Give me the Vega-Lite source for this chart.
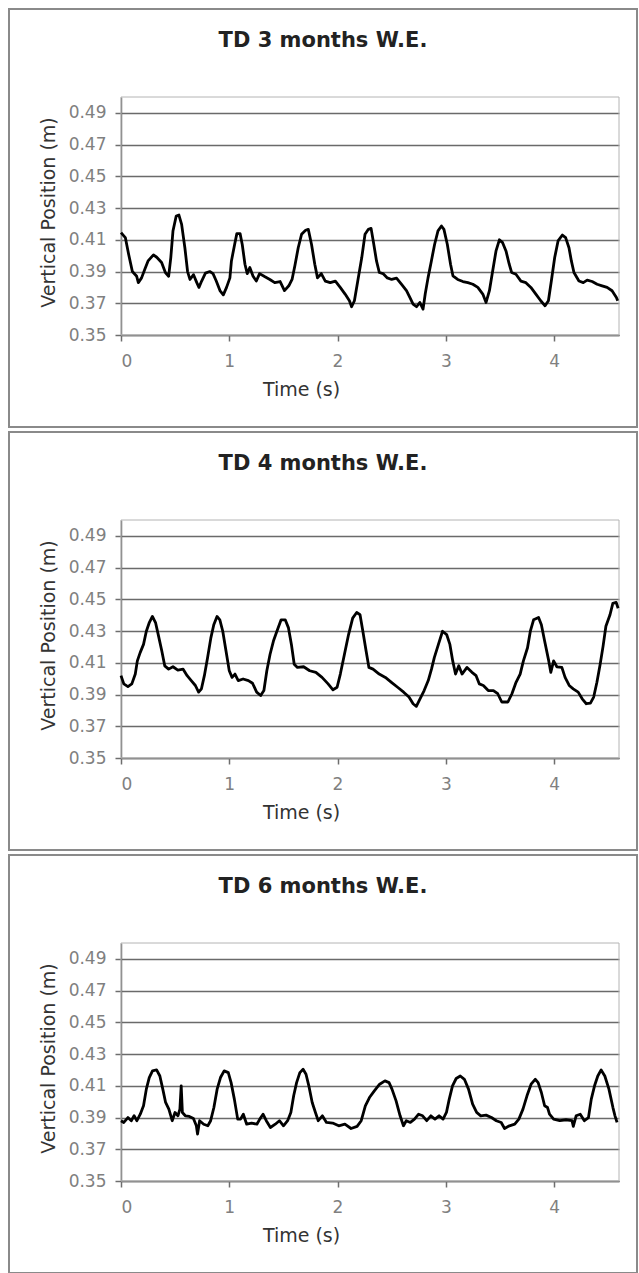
{
  "$schema": "https://vega.github.io/schema/vega-lite/v6.json",
  "background": "white",
  "padding": {"left": 8, "top": 8, "right": 3, "bottom": 1},
  "spacing": 5,
  "bounds": "flush",
  "datasets": {
    "p3": [
      {"t":0,"v":0.4145},{"t":0.04,"v":0.4114},{"t":0.07,"v":0.401},{"t":0.105,"v":0.390},{"t":0.145,"v":0.387},{"t":0.16,"v":0.383},{"t":0.19,"v":0.386},{"t":0.22,"v":0.3915},{"t":0.25,"v":0.3967},{"t":0.30,"v":0.4005},{"t":0.33,"v":0.399},{"t":0.375,"v":0.3957},{"t":0.41,"v":0.3894},{"t":0.44,"v":0.387},{"t":0.46,"v":0.3988},{"t":0.48,"v":0.4155},{"t":0.51,"v":0.425},{"t":0.535,"v":0.4256},{"t":0.56,"v":0.4197},{"t":0.59,"v":0.405},{"t":0.615,"v":0.390},{"t":0.637,"v":0.385},{"t":0.67,"v":0.388},{"t":0.70,"v":0.383},{"t":0.72,"v":0.380},{"t":0.745,"v":0.384},{"t":0.78,"v":0.389},{"t":0.82,"v":0.390},{"t":0.85,"v":0.3887},{"t":0.88,"v":0.384},{"t":0.914,"v":0.378},{"t":0.945,"v":0.3753},{"t":0.975,"v":0.380},{"t":1.006,"v":0.386},{"t":1.02,"v":0.3967},{"t":1.05,"v":0.4072},{"t":1.07,"v":0.4139},{"t":1.10,"v":0.4139},{"t":1.12,"v":0.407},{"t":1.145,"v":0.3946},{"t":1.166,"v":0.3887},{"t":1.19,"v":0.3925},{"t":1.22,"v":0.387},{"t":1.25,"v":0.384},{"t":1.28,"v":0.3887},{"t":1.33,"v":0.3867},{"t":1.375,"v":0.385},{"t":1.42,"v":0.383},{"t":1.47,"v":0.3837},{"t":1.51,"v":0.378},{"t":1.55,"v":0.381},{"t":1.58,"v":0.385},{"t":1.606,"v":0.3936},{"t":1.637,"v":0.405},{"t":1.668,"v":0.4135},{"t":1.705,"v":0.416},{"t":1.73,"v":0.4166},{"t":1.76,"v":0.407},{"t":1.79,"v":0.3946},{"t":1.815,"v":0.386},{"t":1.85,"v":0.3887},{"t":1.887,"v":0.384},{"t":1.933,"v":0.383},{"t":1.98,"v":0.384},{"t":2.025,"v":0.380},{"t":2.07,"v":0.3758},{"t":2.11,"v":0.3716},{"t":2.13,"v":0.3678},{"t":2.156,"v":0.3716},{"t":2.187,"v":0.384},{"t":2.224,"v":0.3988},{"t":2.254,"v":0.4135},{"t":2.285,"v":0.4166},{"t":2.31,"v":0.4172},{"t":2.33,"v":0.4093},{"t":2.36,"v":0.3967},{"t":2.386,"v":0.3894},{"t":2.42,"v":0.3887},{"t":2.46,"v":0.386},{"t":2.5,"v":0.385},{"t":2.545,"v":0.3858},{"t":2.59,"v":0.382},{"t":2.637,"v":0.3779},{"t":2.668,"v":0.3737},{"t":2.698,"v":0.3695},{"t":2.73,"v":0.3678},{"t":2.76,"v":0.3705},{"t":2.79,"v":0.3663},{"t":2.81,"v":0.3758},{"t":2.836,"v":0.386},{"t":2.867,"v":0.3967},{"t":2.897,"v":0.4072},{"t":2.928,"v":0.4156},{"t":2.96,"v":0.4187},{"t":2.983,"v":0.4166},{"t":3.014,"v":0.4072},{"t":3.044,"v":0.3946},{"t":3.066,"v":0.3873},{"t":3.11,"v":0.385},{"t":3.158,"v":0.3837},{"t":3.204,"v":0.383},{"t":3.25,"v":0.382},{"t":3.296,"v":0.380},{"t":3.342,"v":0.3758},{"t":3.372,"v":0.3705},{"t":3.403,"v":0.3779},{"t":3.433,"v":0.3904},{"t":3.464,"v":0.403},{"t":3.495,"v":0.41},{"t":3.525,"v":0.4082},{"t":3.556,"v":0.403},{"t":3.586,"v":0.3946},{"t":3.608,"v":0.3894},{"t":3.648,"v":0.3883},{"t":3.694,"v":0.384},{"t":3.74,"v":0.383},{"t":3.786,"v":0.380},{"t":3.832,"v":0.3758},{"t":3.877,"v":0.3716},{"t":3.917,"v":0.3684},{"t":3.948,"v":0.3716},{"t":3.975,"v":0.384},{"t":4.006,"v":0.3988},{"t":4.037,"v":0.4093},{"t":4.077,"v":0.413},{"t":4.107,"v":0.4114},{"t":4.138,"v":0.405},{"t":4.16,"v":0.3967},{"t":4.184,"v":0.3894},{"t":4.23,"v":0.384},{"t":4.27,"v":0.383},{"t":4.306,"v":0.3846},{"t":4.352,"v":0.3837},{"t":4.398,"v":0.382},{"t":4.444,"v":0.381},{"t":4.49,"v":0.380},{"t":4.536,"v":0.3779},{"t":4.576,"v":0.3737},{"t":4.588,"v":0.3716}
    ],
    "p4": [
      {"t":0,"v":0.4019},{"t":0.026,"v":0.3967},{"t":0.064,"v":0.395},{"t":0.10,"v":0.3967},{"t":0.132,"v":0.4029},{"t":0.151,"v":0.4112},{"t":0.177,"v":0.4164},{"t":0.208,"v":0.4216},{"t":0.234,"v":0.4299},{"t":0.26,"v":0.4351},{"t":0.29,"v":0.4392},{"t":0.32,"v":0.4351},{"t":0.347,"v":0.4268},{"t":0.377,"v":0.4174},{"t":0.404,"v":0.4081},{"t":0.44,"v":0.406},{"t":0.48,"v":0.4075},{"t":0.525,"v":0.4054},{"t":0.574,"v":0.406},{"t":0.611,"v":0.4019},{"t":0.649,"v":0.3988},{"t":0.687,"v":0.3957},{"t":0.717,"v":0.3915},{"t":0.743,"v":0.3936},{"t":0.77,"v":0.4019},{"t":0.80,"v":0.4133},{"t":0.83,"v":0.4257},{"t":0.857,"v":0.434},{"t":0.887,"v":0.4392},{"t":0.913,"v":0.4371},{"t":0.94,"v":0.4299},{"t":0.97,"v":0.4174},{"t":1.0,"v":0.405},{"t":1.026,"v":0.4008},{"t":1.053,"v":0.4029},{"t":1.083,"v":0.3988},{"t":1.128,"v":0.3998},{"t":1.177,"v":0.3988},{"t":1.215,"v":0.3971},{"t":1.253,"v":0.3915},{"t":1.29,"v":0.3894},{"t":1.32,"v":0.3925},{"t":1.347,"v":0.405},{"t":1.377,"v":0.4154},{"t":1.408,"v":0.4237},{"t":1.44,"v":0.4299},{"t":1.479,"v":0.4371},{"t":1.517,"v":0.4371},{"t":1.547,"v":0.432},{"t":1.574,"v":0.4216},{"t":1.6,"v":0.4091},{"t":1.63,"v":0.4071},{"t":1.687,"v":0.4075},{"t":1.743,"v":0.405},{"t":1.8,"v":0.404},{"t":1.857,"v":0.4008},{"t":1.913,"v":0.3967},{"t":1.958,"v":0.393},{"t":1.996,"v":0.3946},{"t":2.026,"v":0.4029},{"t":2.064,"v":0.4154},{"t":2.102,"v":0.4278},{"t":2.14,"v":0.4382},{"t":2.177,"v":0.4417},{"t":2.208,"v":0.4403},{"t":2.234,"v":0.4299},{"t":2.264,"v":0.4174},{"t":2.29,"v":0.4071},{"t":2.328,"v":0.406},{"t":2.385,"v":0.4029},{"t":2.442,"v":0.4008},{"t":2.498,"v":0.3977},{"t":2.555,"v":0.3946},{"t":2.611,"v":0.3915},{"t":2.66,"v":0.3884},{"t":2.698,"v":0.3842},{"t":2.728,"v":0.3826},{"t":2.762,"v":0.3873},{"t":2.8,"v":0.3925},{"t":2.838,"v":0.3988},{"t":2.868,"v":0.406},{"t":2.894,"v":0.4133},{"t":2.932,"v":0.4216},{"t":2.97,"v":0.4299},{"t":3.008,"v":0.4278},{"t":3.038,"v":0.4216},{"t":3.064,"v":0.4112},{"t":3.09,"v":0.4029},{"t":3.12,"v":0.4081},{"t":3.15,"v":0.4029},{"t":3.196,"v":0.4071},{"t":3.242,"v":0.404},{"t":3.28,"v":0.4019},{"t":3.31,"v":0.3967},{"t":3.347,"v":0.3957},{"t":3.392,"v":0.3925},{"t":3.44,"v":0.3925},{"t":3.48,"v":0.3905},{"t":3.517,"v":0.3853},{"t":3.574,"v":0.3853},{"t":3.611,"v":0.3905},{"t":3.649,"v":0.3977},{"t":3.687,"v":0.4029},{"t":3.717,"v":0.4112},{"t":3.755,"v":0.4195},{"t":3.781,"v":0.4299},{"t":3.811,"v":0.4371},{"t":3.857,"v":0.4386},{"t":3.883,"v":0.434},{"t":3.913,"v":0.4237},{"t":3.951,"v":0.4112},{"t":3.97,"v":0.404},{"t":3.996,"v":0.4112},{"t":4.026,"v":0.4075},{"t":4.072,"v":0.4071},{"t":4.102,"v":0.4008},{"t":4.14,"v":0.3957},{"t":4.177,"v":0.3936},{"t":4.223,"v":0.3915},{"t":4.26,"v":0.3873},{"t":4.298,"v":0.3842},{"t":4.336,"v":0.3846},{"t":4.366,"v":0.3884},{"t":4.396,"v":0.3977},{"t":4.426,"v":0.4091},{"t":4.453,"v":0.4205},{"t":4.479,"v":0.433},{"t":4.517,"v":0.4403},{"t":4.543,"v":0.4475},{"t":4.574,"v":0.4481},{"t":4.592,"v":0.4444}
    ],
    "p6": [
      {"t":0,"v":0.388},{"t":0.026,"v":0.3869},{"t":0.064,"v":0.39},{"t":0.095,"v":0.388},{"t":0.121,"v":0.3911},{"t":0.147,"v":0.388},{"t":0.178,"v":0.3921},{"t":0.208,"v":0.3974},{"t":0.234,"v":0.4079},{"t":0.261,"v":0.4152},{"t":0.291,"v":0.4194},{"t":0.329,"v":0.42},{"t":0.359,"v":0.4162},{"t":0.386,"v":0.4079},{"t":0.412,"v":0.3995},{"t":0.442,"v":0.3953},{"t":0.473,"v":0.388},{"t":0.499,"v":0.3932},{"t":0.526,"v":0.3911},{"t":0.544,"v":0.3953},{"t":0.556,"v":0.41},{"t":0.567,"v":0.3932},{"t":0.594,"v":0.3911},{"t":0.631,"v":0.3907},{"t":0.669,"v":0.3894},{"t":0.696,"v":0.3848},{"t":0.707,"v":0.3796},{"t":0.726,"v":0.388},{"t":0.764,"v":0.3858},{"t":0.802,"v":0.3848},{"t":0.828,"v":0.388},{"t":0.858,"v":0.3963},{"t":0.888,"v":0.4079},{"t":0.919,"v":0.4152},{"t":0.953,"v":0.4194},{"t":0.991,"v":0.4183},{"t":1.017,"v":0.412},{"t":1.047,"v":0.4016},{"t":1.078,"v":0.389},{"t":1.104,"v":0.389},{"t":1.13,"v":0.3921},{"t":1.161,"v":0.3858},{"t":1.206,"v":0.3865},{"t":1.255,"v":0.3858},{"t":1.282,"v":0.389},{"t":1.312,"v":0.3921},{"t":1.342,"v":0.388},{"t":1.38,"v":0.3837},{"t":1.425,"v":0.3858},{"t":1.463,"v":0.388},{"t":1.501,"v":0.3848},{"t":1.539,"v":0.388},{"t":1.569,"v":0.3932},{"t":1.595,"v":0.4037},{"t":1.622,"v":0.412},{"t":1.652,"v":0.4183},{"t":1.682,"v":0.4204},{"t":1.709,"v":0.4173},{"t":1.735,"v":0.41},{"t":1.766,"v":0.3995},{"t":1.796,"v":0.3932},{"t":1.822,"v":0.388},{"t":1.86,"v":0.3911},{"t":1.898,"v":0.3869},{"t":1.955,"v":0.3865},{"t":2.011,"v":0.3848},{"t":2.068,"v":0.3858},{"t":2.125,"v":0.3831},{"t":2.181,"v":0.3844},{"t":2.219,"v":0.388},{"t":2.257,"v":0.3974},{"t":2.295,"v":0.4026},{"t":2.34,"v":0.4068},{"t":2.389,"v":0.411},{"t":2.438,"v":0.4131},{"t":2.476,"v":0.412},{"t":2.503,"v":0.4079},{"t":2.541,"v":0.4005},{"t":2.578,"v":0.3911},{"t":2.609,"v":0.3848},{"t":2.635,"v":0.388},{"t":2.673,"v":0.3869},{"t":2.711,"v":0.389},{"t":2.749,"v":0.3921},{"t":2.786,"v":0.3911},{"t":2.824,"v":0.388},{"t":2.862,"v":0.3911},{"t":2.9,"v":0.389},{"t":2.938,"v":0.3911},{"t":2.975,"v":0.389},{"t":3.006,"v":0.3932},{"t":3.032,"v":0.4016},{"t":3.062,"v":0.41},{"t":3.096,"v":0.4146},{"t":3.134,"v":0.4162},{"t":3.172,"v":0.4141},{"t":3.21,"v":0.4079},{"t":3.248,"v":0.3984},{"t":3.285,"v":0.3932},{"t":3.323,"v":0.3911},{"t":3.372,"v":0.3915},{"t":3.422,"v":0.39},{"t":3.467,"v":0.388},{"t":3.512,"v":0.3869},{"t":3.543,"v":0.3831},{"t":3.588,"v":0.3848},{"t":3.637,"v":0.3858},{"t":3.675,"v":0.389},{"t":3.713,"v":0.3953},{"t":3.75,"v":0.4037},{"t":3.788,"v":0.411},{"t":3.826,"v":0.4141},{"t":3.853,"v":0.412},{"t":3.883,"v":0.4058},{"t":3.913,"v":0.3974},{"t":3.94,"v":0.3963},{"t":3.958,"v":0.3921},{"t":3.996,"v":0.389},{"t":4.053,"v":0.388},{"t":4.11,"v":0.3886},{"t":4.166,"v":0.388},{"t":4.178,"v":0.3844},{"t":4.204,"v":0.3911},{"t":4.242,"v":0.3921},{"t":4.28,"v":0.388},{"t":4.318,"v":0.39},{"t":4.344,"v":0.4016},{"t":4.374,"v":0.41},{"t":4.404,"v":0.4162},{"t":4.435,"v":0.42},{"t":4.469,"v":0.4162},{"t":4.507,"v":0.4079},{"t":4.544,"v":0.3963},{"t":4.563,"v":0.3911},{"t":4.582,"v":0.3869}
    ]
  },
  "vconcat": [
    {
      "width": 628, "height": 418,
      "title": {"text": "TD 3 months W.E."},
      "layer": [
        {"data": {"values": [{}]}, "mark": {"type": "rect", "fill": "transparent", "stroke": "#b4b4b4", "strokeWidth": 1},
         "encoding": {
           "x": {"datum": 0, "type": "quantitative", "scale": {"domain": [0, 4.6], "range": [112, 610], "nice": false, "zero": false},
                 "axis": {"orient": "bottom", "offset": -92, "values": [0,1,2,3,4], "format": "d", "grid": false, "tickSize": 6, "labelPadding": 12, "title": "Time (s)", "titleX": 292, "titleY": 60, "titleBaseline": "alphabetic", "titleAlign": "center"}},
           "x2": {"datum": 4.6},
           "y": {"datum": 0.35, "type": "quantitative", "scale": {"domain": [0.35, 0.5], "range": [326, 88], "nice": false, "zero": false},
                 "axis": {"orient": "left", "offset": -112, "values": [0.35,0.37,0.39,0.41,0.43,0.45,0.47,0.49], "format": ".2f", "grid": true, "tickSize": 6, "labelPadding": 9, "title": "Vertical Position (m)", "titleX": -67, "titleY": 203, "titleAngle": -90, "titleBaseline": "alphabetic", "titleAlign": "center"}},
           "y2": {"datum": 0.5}}},
        {"data": {"name": "p3"}, "mark": {"type": "line", "color": "#000000", "strokeWidth": 2.8, "strokeJoin": "round"},
         "encoding": {
           "x": {"field": "t", "type": "quantitative", "scale": {"domain": [0, 4.6], "range": [112, 610], "nice": false, "zero": false},
                 "axis": {"orient": "bottom", "offset": -92, "values": [0,1,2,3,4], "format": "d", "grid": false, "tickSize": 6, "labelPadding": 12, "title": "Time (s)", "titleX": 292, "titleY": 60, "titleBaseline": "alphabetic", "titleAlign": "center"}},
           "y": {"field": "v", "type": "quantitative", "scale": {"domain": [0.35, 0.5], "range": [326, 88], "nice": false, "zero": false},
                 "axis": {"orient": "left", "offset": -112, "values": [0.35,0.37,0.39,0.41,0.43,0.45,0.47,0.49], "format": ".2f", "grid": true, "tickSize": 6, "labelPadding": 9, "title": "Vertical Position (m)", "titleX": -67, "titleY": 203, "titleAngle": -90, "titleBaseline": "alphabetic", "titleAlign": "center"}}}}
      ]
    },
    {
      "width": 628, "height": 418,
      "title": {"text": "TD 4 months W.E."},
      "layer": [
        {"data": {"values": [{}]}, "mark": {"type": "rect", "fill": "transparent", "stroke": "#b4b4b4", "strokeWidth": 1},
         "encoding": {
           "x": {"datum": 0, "type": "quantitative", "scale": {"domain": [0, 4.6], "range": [112, 610], "nice": false, "zero": false},
                 "axis": {"orient": "bottom", "offset": -92, "values": [0,1,2,3,4], "format": "d", "grid": false, "tickSize": 6, "labelPadding": 12, "title": "Time (s)", "titleX": 292, "titleY": 60, "titleBaseline": "alphabetic", "titleAlign": "center"}},
           "x2": {"datum": 4.6},
           "y": {"datum": 0.35, "type": "quantitative", "scale": {"domain": [0.35, 0.5], "range": [326, 88], "nice": false, "zero": false},
                 "axis": {"orient": "left", "offset": -112, "values": [0.35,0.37,0.39,0.41,0.43,0.45,0.47,0.49], "format": ".2f", "grid": true, "tickSize": 6, "labelPadding": 9, "title": "Vertical Position (m)", "titleX": -67, "titleY": 203, "titleAngle": -90, "titleBaseline": "alphabetic", "titleAlign": "center"}},
           "y2": {"datum": 0.5}}},
        {"data": {"name": "p4"}, "mark": {"type": "line", "color": "#000000", "strokeWidth": 2.8, "strokeJoin": "round"},
         "encoding": {
           "x": {"field": "t", "type": "quantitative", "scale": {"domain": [0, 4.6], "range": [112, 610], "nice": false, "zero": false},
                 "axis": {"orient": "bottom", "offset": -92, "values": [0,1,2,3,4], "format": "d", "grid": false, "tickSize": 6, "labelPadding": 12, "title": "Time (s)", "titleX": 292, "titleY": 60, "titleBaseline": "alphabetic", "titleAlign": "center"}},
           "y": {"field": "v", "type": "quantitative", "scale": {"domain": [0.35, 0.5], "range": [326, 88], "nice": false, "zero": false},
                 "axis": {"orient": "left", "offset": -112, "values": [0.35,0.37,0.39,0.41,0.43,0.45,0.47,0.49], "format": ".2f", "grid": true, "tickSize": 6, "labelPadding": 9, "title": "Vertical Position (m)", "titleX": -67, "titleY": 203, "titleAngle": -90, "titleBaseline": "alphabetic", "titleAlign": "center"}}}}
      ]
    },
    {
      "width": 628, "height": 418,
      "title": {"text": "TD 6 months W.E."},
      "layer": [
        {"data": {"values": [{}]}, "mark": {"type": "rect", "fill": "transparent", "stroke": "#b4b4b4", "strokeWidth": 1},
         "encoding": {
           "x": {"datum": 0, "type": "quantitative", "scale": {"domain": [0, 4.6], "range": [112, 610], "nice": false, "zero": false},
                 "axis": {"orient": "bottom", "offset": -92, "values": [0,1,2,3,4], "format": "d", "grid": false, "tickSize": 6, "labelPadding": 12, "title": "Time (s)", "titleX": 292, "titleY": 60, "titleBaseline": "alphabetic", "titleAlign": "center"}},
           "x2": {"datum": 4.6},
           "y": {"datum": 0.35, "type": "quantitative", "scale": {"domain": [0.35, 0.5], "range": [326, 88], "nice": false, "zero": false},
                 "axis": {"orient": "left", "offset": -112, "values": [0.35,0.37,0.39,0.41,0.43,0.45,0.47,0.49], "format": ".2f", "grid": true, "tickSize": 6, "labelPadding": 9, "title": "Vertical Position (m)", "titleX": -67, "titleY": 203, "titleAngle": -90, "titleBaseline": "alphabetic", "titleAlign": "center"}},
           "y2": {"datum": 0.5}}},
        {"data": {"name": "p6"}, "mark": {"type": "line", "color": "#000000", "strokeWidth": 2.8, "strokeJoin": "round"},
         "encoding": {
           "x": {"field": "t", "type": "quantitative", "scale": {"domain": [0, 4.6], "range": [112, 610], "nice": false, "zero": false},
                 "axis": {"orient": "bottom", "offset": -92, "values": [0,1,2,3,4], "format": "d", "grid": false, "tickSize": 6, "labelPadding": 12, "title": "Time (s)", "titleX": 292, "titleY": 60, "titleBaseline": "alphabetic", "titleAlign": "center"}},
           "y": {"field": "v", "type": "quantitative", "scale": {"domain": [0.35, 0.5], "range": [326, 88], "nice": false, "zero": false},
                 "axis": {"orient": "left", "offset": -112, "values": [0.35,0.37,0.39,0.41,0.43,0.45,0.47,0.49], "format": ".2f", "grid": true, "tickSize": 6, "labelPadding": 9, "title": "Vertical Position (m)", "titleX": -67, "titleY": 203, "titleAngle": -90, "titleBaseline": "alphabetic", "titleAlign": "center"}}}}
      ]
    }
  ],
  "config": {
    "view": {"stroke": "#8a8a8a", "strokeWidth": 2},
    "font": "DejaVu Sans",
    "axis": {"domainColor": "#6e6e6e", "domainWidth": 1.5, "tickColor": "#6e6e6e", "tickWidth": 1.5, "gridColor": "#6a6a6a", "gridWidth": 1.6, "labelColor": "#808080", "labelFont": "DejaVu Sans", "labelFontSize": 17, "titleFont": "DejaVu Sans", "titleFontSize": 19, "titleColor": "#333333", "titleFontWeight": "normal"},
    "title": {"font": "DejaVu Sans", "fontSize": 21, "fontWeight": "bold", "color": "#222222", "anchor": "middle", "frame": "group", "baseline": "alphabetic", "offset": -42}
  }
}
